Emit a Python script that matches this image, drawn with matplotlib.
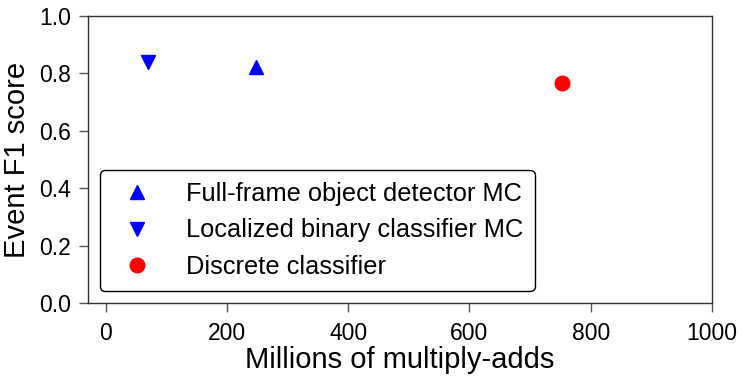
import matplotlib
matplotlib.use("Agg")
import matplotlib.pyplot as plt

plt.rcParams['font.family'] = ['Liberation Sans', 'DejaVu Sans']

# Data
full_frame_x = [248]
full_frame_y = [0.822]
localized_x = [69]
localized_y = [0.839]
discrete_x = [753]
discrete_y = [0.768]

labels = ["Full-frame object detector MC", "Localized binary classifier MC", "Discrete classifier"]
xticks = [0, 200, 400, 600, 800, 1000]
yticks = [0.0, 0.2, 0.4, 0.6, 0.8, 1.0]

fig = plt.figure(figsize=(7.47, 3.8), dpi=100)
ax = fig.add_axes([87.5/747, 1-303.3/380, (712-87.5)/747, (303.3-16)/380])

ax.plot(full_frame_x, full_frame_y, linestyle='none', marker='^', color='blue', markersize=10, label=labels[0])
ax.plot(localized_x, localized_y, linestyle='none', marker='v', color='blue', markersize=10, label=labels[1])
ax.plot(discrete_x, discrete_y, linestyle='none', marker='o', color='red', markersize=10.5, label=labels[2])

ax.set_xlim(-30, 1000)
ax.set_ylim(0, 1.0)
ax.set_xticks(xticks)
ax.set_yticks(yticks)
ax.set_xticklabels([str(t) for t in xticks])
ax.set_yticklabels([f"{t:.1f}" for t in yticks])

for s in ax.spines.values():
    s.set_color('#333333')
    s.set_linewidth(1.0)
ax.tick_params(axis='both', direction='out', length=6.5, width=1.0, color='#555555', labelsize=16.5)
ax.tick_params(axis='x', pad=7)
ax.tick_params(axis='y', pad=5.5)

ax.set_xlabel("Millions of multiply-adds", fontsize=21, labelpad=1)
ax.set_ylabel("Event F1 score", fontsize=21, labelpad=6)

leg = ax.legend(loc='lower left', fontsize=18.3, frameon=True, fancybox=True,
                edgecolor='black', framealpha=1.0, handletextpad=0.92, borderpad=0.45,
                labelspacing=0.5, handlelength=2.0, borderaxespad=0.5)
leg.get_frame().set_linewidth(1.0)

fig.savefig("out.png", dpi=100)
